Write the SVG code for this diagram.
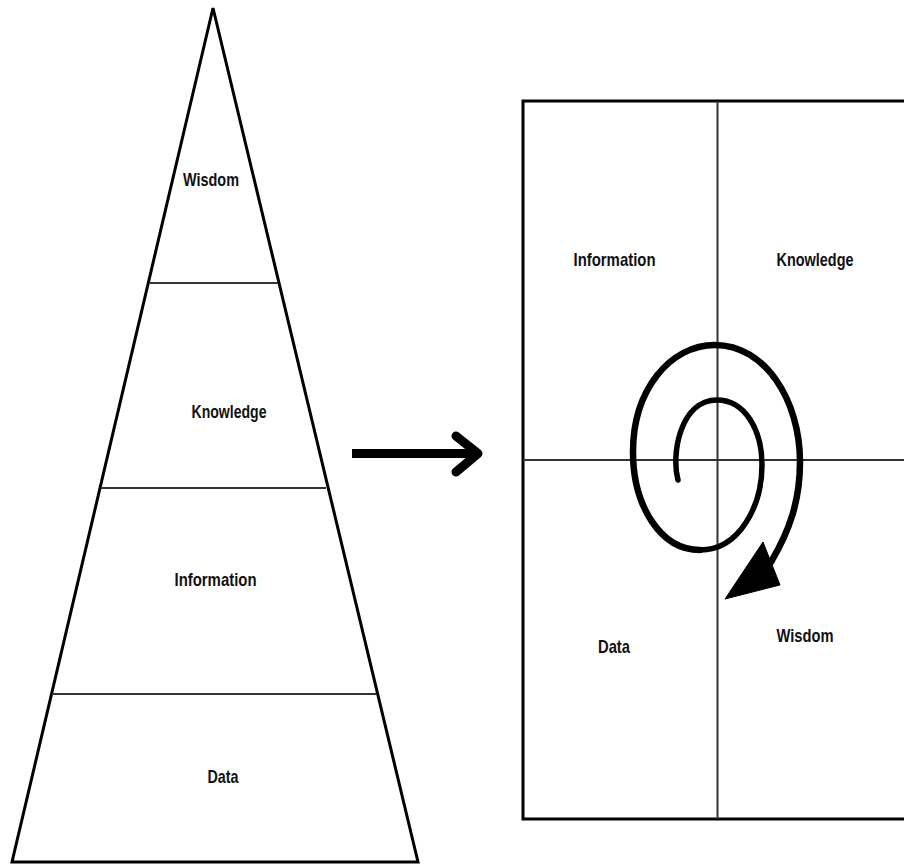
<svg xmlns="http://www.w3.org/2000/svg" width="904" height="864" viewBox="0 0 904 864">
  <defs>
    <style>
      .lbl { font-family: "Liberation Sans", Arial, sans-serif; font-weight: bold; font-size: 19px; fill: #111; text-anchor: middle; }
      .edge { fill: none; stroke: #000; stroke-width: 3; stroke-linejoin: miter; }
      .div { stroke: #333; stroke-width: 2; fill: none; }
      .thick { fill: none; stroke: #000; stroke-linecap: round; stroke-linejoin: round; }
    </style>
  </defs>
  <rect x="0" y="0" width="904" height="864" fill="#fff"/>

  <g id="pyramid">
    <polygon class="edge" points="213,8 418,862 12,862"/>
    <line class="div" x1="149" y1="283" x2="278" y2="283"/>
    <line class="div" x1="101" y1="488" x2="326" y2="488"/>
    <line class="div" x1="52" y1="694" x2="376" y2="694"/>
  </g>
  <g id="pyr-wisdom"><text class="lbl" x="211" y="186" textLength="56" lengthAdjust="spacingAndGlyphs">Wisdom</text></g>
  <g id="pyr-knowledge"><text class="lbl" x="229" y="417.5" textLength="75" lengthAdjust="spacingAndGlyphs">Knowledge</text></g>
  <g id="pyr-information"><text class="lbl" x="215.5" y="586" textLength="82" lengthAdjust="spacingAndGlyphs">Information</text></g>
  <g id="pyr-data"><text class="lbl" x="223" y="783" textLength="31" lengthAdjust="spacingAndGlyphs">Data</text></g>

  <g id="quadrants">
    <rect class="edge" x="523" y="101" width="395" height="718"/>
    <line class="div" x1="717.5" y1="101" x2="717.5" y2="819"/>
    <line class="div" x1="523" y1="460" x2="904" y2="460"/>
  </g>
  <g id="quad-information"><text class="lbl" x="614.5" y="265.5" textLength="82" lengthAdjust="spacingAndGlyphs">Information</text></g>
  <g id="quad-knowledge"><text class="lbl" x="815" y="265.5" textLength="77" lengthAdjust="spacingAndGlyphs">Knowledge</text></g>
  <g id="quad-data"><text class="lbl" x="614" y="653" textLength="32" lengthAdjust="spacingAndGlyphs">Data</text></g>
  <g id="quad-wisdom"><text class="lbl" x="805" y="642" textLength="57" lengthAdjust="spacingAndGlyphs">Wisdom</text></g>

  <g id="connectors">
    <g id="transform-arrow">
      <line x1="352" y1="453.5" x2="472" y2="453.5" stroke="#000" stroke-width="9"/>
      <polyline class="thick" stroke-width="9" points="456,436 478,453.5 456,472"/>
    </g>
    <g id="spiral">
      <path class="thick" stroke-width="5.5" d="M 678 480 C 671 455, 680 400, 717 400 C 745 400, 762 430, 762 465 C 762 505, 740 550, 700 550"/>
      <path class="thick" stroke-width="6.5" d="M 700 550 C 660 550, 633 505, 633 452 C 633 390, 670 345, 715 345 C 765 345, 800 400, 800 462 C 800 500, 790 530, 771 562"/>
      <polygon points="763,542 780,585 725,599" fill="#000" stroke="#000" stroke-width="1" stroke-linejoin="round"/>
    </g>
  </g>
</svg>
